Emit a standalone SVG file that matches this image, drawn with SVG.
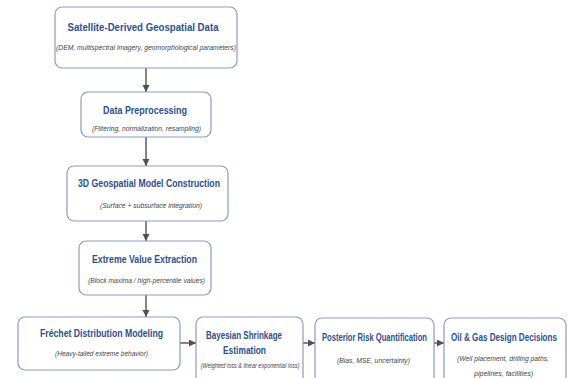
<svg xmlns="http://www.w3.org/2000/svg" width="568" height="378" viewBox="0 0 568 378">
<defs>
<marker id="ah" markerUnits="userSpaceOnUse" markerWidth="8" markerHeight="8" refX="7" refY="3.5" orient="auto">
<path d="M0,0 L7,3.5 L0,7 z" fill="#505050"/>
</marker>
<style>
.box{fill:#ffffff;stroke:#8a9cc4;stroke-width:1.2}
.t{font-family:"Liberation Sans",Arial,sans-serif;font-weight:bold;font-size:11px;fill:#2d4f8f;text-anchor:middle}
.s{font-family:"Liberation Sans",Arial,sans-serif;font-style:italic;font-size:7.5px;fill:#444;text-anchor:middle}
.c{stroke:#505050;stroke-width:1.4;fill:none;marker-end:url(#ah)}
</style>
</defs>
<rect width="568" height="378" fill="#ffffff"/>
<g id="connectors">
<line class="c" x1="146" y1="68" x2="146" y2="92"/>
<line class="c" x1="146" y1="137" x2="146" y2="166"/>
<line class="c" x1="146" y1="221" x2="146" y2="241"/>
<line class="c" x1="146" y1="295" x2="146" y2="317"/>
<line class="c" x1="180" y1="343" x2="196" y2="343"/>
<line class="c" x1="303" y1="343" x2="315" y2="343"/>
<line class="c" x1="434" y1="343" x2="444" y2="343"/>
</g>
<g id="satellite">
<rect class="box" x="55" y="7" width="182" height="61" rx="7"/>
<text class="t" transform="translate(143,31) scale(0.876,1)" x="0" y="0" textLength="172.4" lengthAdjust="spacingAndGlyphs">Satellite-Derived Geospatial Data</text>
<text class="s" x="146" y="50" textLength="180" lengthAdjust="spacingAndGlyphs">(DEM, multispectral imagery, geomorphological parameters)</text>
</g>
<g id="preprocessing">
<rect class="box" x="81" y="92" width="130" height="45" rx="7"/>
<text class="t" transform="translate(145,114) scale(0.813,1)" x="0" y="0" textLength="103.3" lengthAdjust="spacingAndGlyphs">Data Preprocessing</text>
<text class="s" x="146.5" y="131" textLength="109" lengthAdjust="spacingAndGlyphs">(Filtering, normalization, resampling)</text>
</g>
<g id="model3d">
<rect class="box" x="67" y="166" width="161" height="55" rx="7"/>
<text class="t" transform="translate(149,187) scale(0.79,1)" x="0" y="0" textLength="179.7" lengthAdjust="spacingAndGlyphs">3D Geospatial Model Construction</text>
<text class="s" x="151" y="208" textLength="102" lengthAdjust="spacingAndGlyphs">(Surface + subsurface integration)</text>
</g>
<g id="extreme">
<rect class="box" x="79" y="241" width="132" height="54" rx="7"/>
<text class="t" transform="translate(144.5,263) scale(0.79,1)" x="0" y="0" textLength="132.9" lengthAdjust="spacingAndGlyphs">Extreme Value Extraction</text>
<text class="s" x="146.5" y="283" textLength="117" lengthAdjust="spacingAndGlyphs">(Block maxima / high-percentile values)</text>
</g>
<g id="frechet">
<rect class="box" x="18" y="317" width="162" height="53" rx="7"/>
<text class="t" transform="translate(101.5,337) scale(0.79,1)" x="0" y="0" textLength="155.7" lengthAdjust="spacingAndGlyphs">Fréchet Distribution Modeling</text>
<text class="s" x="101.5" y="356" textLength="93" lengthAdjust="spacingAndGlyphs">(Heavy-tailed extreme behavior)</text>
</g>
<g id="bayesian">
<rect class="box" x="196" y="317" width="107" height="70" rx="7"/>
<text class="t" transform="translate(244,339) scale(0.727,1)" x="0" y="0" textLength="104.5" lengthAdjust="spacingAndGlyphs">Bayesian Shrinkage</text>
<text class="t" transform="translate(244.5,354) scale(0.765,1)" x="0" y="0" textLength="56.2" lengthAdjust="spacingAndGlyphs">Estimation</text>
<text class="s" x="250" y="368" textLength="99" lengthAdjust="spacingAndGlyphs">(Weighted loss &amp; linear exponential loss)</text>
</g>
<g id="posterior">
<rect class="box" x="315" y="318" width="119" height="70" rx="7"/>
<text class="t" transform="translate(374.5,341) scale(0.693,1)" x="0" y="0" textLength="151.5" lengthAdjust="spacingAndGlyphs">Posterior Risk Quantification</text>
<text class="s" x="373.5" y="363" textLength="73" lengthAdjust="spacingAndGlyphs">(Bias, MSE, uncertainty)</text>
</g>
<g id="decisions">
<rect class="box" x="444" y="318" width="122" height="70" rx="7"/>
<text class="t" transform="translate(504,341) scale(0.735,1)" x="0" y="0" textLength="144.2" lengthAdjust="spacingAndGlyphs">Oil &amp; Gas Design Decisions</text>
<text class="s" x="503" y="361" textLength="92" lengthAdjust="spacingAndGlyphs">(Well placement, drilling paths,</text>
<text class="s" x="503.5" y="376" textLength="59" lengthAdjust="spacingAndGlyphs">pipelines, facilities)</text>
</g>
</svg>
